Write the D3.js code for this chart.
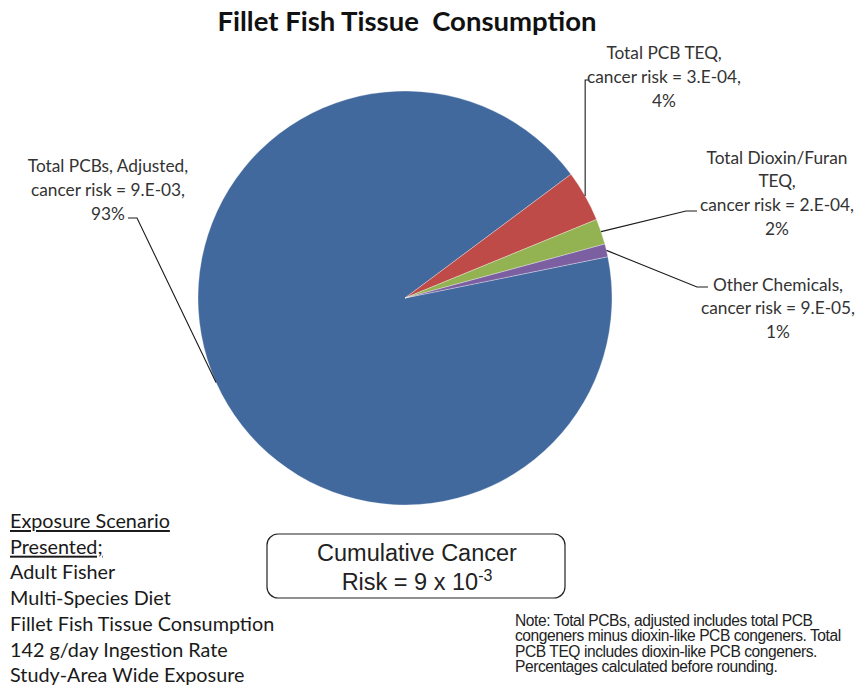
<!DOCTYPE html>
<html>
<head>
<meta charset="utf-8">
<script src="https://cdn.jsdelivr.net/npm/d3@7"></script>
<style>
  html, body { margin: 0; padding: 0; background: #fff; overflow: hidden; }
  svg { display: block; }
</style>
</head>
<body>
<svg id="chart" width="858" height="685"></svg>
<script>
// Cancer risk contributions, fillet fish tissue consumption
const categories = ["Total PCBs, Adjusted", "Total PCB TEQ", "Total Dioxin/Furan TEQ", "Other Chemicals"];
const riskLabels = ["9.E-03", "3.E-04", "2.E-04", "9.E-05"];
const percents = [93, 4, 2, 1];
const colors = ["#41699d", "#be4b48", "#93b352", "#7b5fa1"];

// Label text lines for each slice
const labelLines = [
  ["Total PCBs, Adjusted,", "cancer risk = 9.E-03,", "93%"],
  ["Total PCB TEQ,", "cancer risk = 3.E-04,", "4%"],
  ["Total Dioxin/Furan", "TEQ,", "cancer risk = 2.E-04,", "2%"],
  ["Other Chemicals,", "cancer risk = 9.E-05,", "1%"]
];

const scenarioLines = ["Exposure Scenario", "Presented;", "Adult Fisher", "Multi-Species Diet",
  "Fillet Fish Tissue Consumption", "142 g/day Ingestion Rate", "Study-Area Wide Exposure"];
const noteLines = ["Note: Total PCBs, adjusted includes total PCB",
  "congeners minus dioxin-like PCB congeners. Total",
  "PCB TEQ includes dioxin-like PCB congeners.",
  "Percentages calculated before rounding."];

const svg = d3.select("#chart");
const cx = 405, cy = 298, R = 207;
const deg = Math.PI / 180;

// Title
svg.append("text")
  .attr("x", 407).attr("y", 31)
  .attr("text-anchor", "middle")
  .attr("font-family", "Lato, 'Open Sans', sans-serif")
  .attr("font-weight", "bold")
  .attr("font-size", 27.5)
  .attr("fill", "#111")
  .attr("xml:space", "preserve")
  .text("Fillet Fish Tissue  Consumption");

// Pie
const pie = d3.pie().sort(null).value(d => d)
  .startAngle(78.5 * deg).endAngle(78.5 * deg + 2 * Math.PI);
const arcs = pie(percents);
const arc = d3.arc().innerRadius(0).outerRadius(R);
const edgeArc = d3.arc().innerRadius(R).outerRadius(R);

const g = svg.append("g").attr("transform", `translate(${cx},${cy})`);
g.selectAll("path.slice")
  .data(arcs)
  .join("path")
  .attr("class", "slice")
  .attr("d", arc)
  .attr("fill", (d, i) => colors[i])
  .attr("stroke", "#ffffff")
  .attr("stroke-opacity", 0.45)
  .attr("stroke-width", 0.7);

// Leader lines: from slice edge midpoint to an elbow, then a short horizontal run
const elbows = [
  [[137, 218], [128, 218]],
  [[585, 80], [589, 80]],
  [[686, 211], [697, 211]],
  [[697, 287], [708, 287]]
];
arcs.forEach((a, i) => {
  const [ex, ey] = edgeArc.centroid(a);
  const pts = [[cx + ex, cy + ey]].concat(elbows[i]);
  if (i === 1) pts[1] = [cx + ex, 80];
  svg.append("path")
    .attr("d", d3.line()(pts))
    .attr("fill", "none")
    .attr("stroke", "#1a1a1a")
    .attr("stroke-width", 1.1);
});

// Data labels
const labelPos = [
  { x: 108, y: 165, dy: 24 },
  { x: 664, y: 52, dy: 24 },
  { x: 777, y: 157, dy: 23.7 },
  { x: 778, y: 284, dy: 23.5 }
];
labelLines.forEach((lines, i) => {
  const t = svg.append("text")
    .attr("text-anchor", "middle")
    .attr("font-family", "Lato, 'Open Sans', sans-serif")
    .attr("font-size", 17.3)
    .attr("fill", "#333");
  lines.forEach((s, j) => {
    t.append("tspan")
      .attr("x", labelPos[i].x)
      .attr("y", labelPos[i].y + j * labelPos[i].dy)
      .attr("dominant-baseline", "central")
      .text(s);
  });
});

// Exposure scenario block
const sc = svg.append("text")
  .attr("font-family", "Lato, 'Open Sans', sans-serif")
  .attr("font-size", 19.8)
  .attr("fill", "#1a1a1a");
scenarioLines.forEach((s, j) => {
  sc.append("tspan")
    .attr("x", 10)
    .attr("y", 520 + j * 25.7)
    .attr("dominant-baseline", "central")
    .attr("text-decoration", j < 2 ? "underline" : null)
    .text(s);
});

// Cumulative risk box
svg.append("rect")
  .attr("x", 267).attr("y", 534)
  .attr("width", 298).attr("height", 64)
  .attr("rx", 11).attr("ry", 11)
  .attr("fill", "#fff")
  .attr("stroke", "#222")
  .attr("stroke-width", 1.2);
const box = svg.append("text")
  .attr("text-anchor", "middle")
  .attr("font-family", "'Liberation Sans', Arial, sans-serif")
  .attr("font-size", 23.5)
  .attr("fill", "#222");
box.append("tspan").attr("x", 417).attr("y", 561).text("Cumulative Cancer");
const l2 = box.append("tspan").attr("x", 417).attr("y", 590);
l2.append("tspan").text("Risk = 9 x 10");
l2.append("tspan").attr("dy", -9).attr("font-size", 16).text("-3");

// Note, set tight so the longest line fits the page width
const note = svg.append("text")
  .attr("font-family", "'Liberation Sans', Arial, sans-serif")
  .attr("font-size", 15.6)
  .attr("letter-spacing", -0.45)
  .attr("fill", "#222");
noteLines.forEach((s, j) => {
  note.append("tspan")
    .attr("x", 515)
    .attr("y", 626 + j * 15.3)
    .text(s);
});
</script>
</body>
</html>
